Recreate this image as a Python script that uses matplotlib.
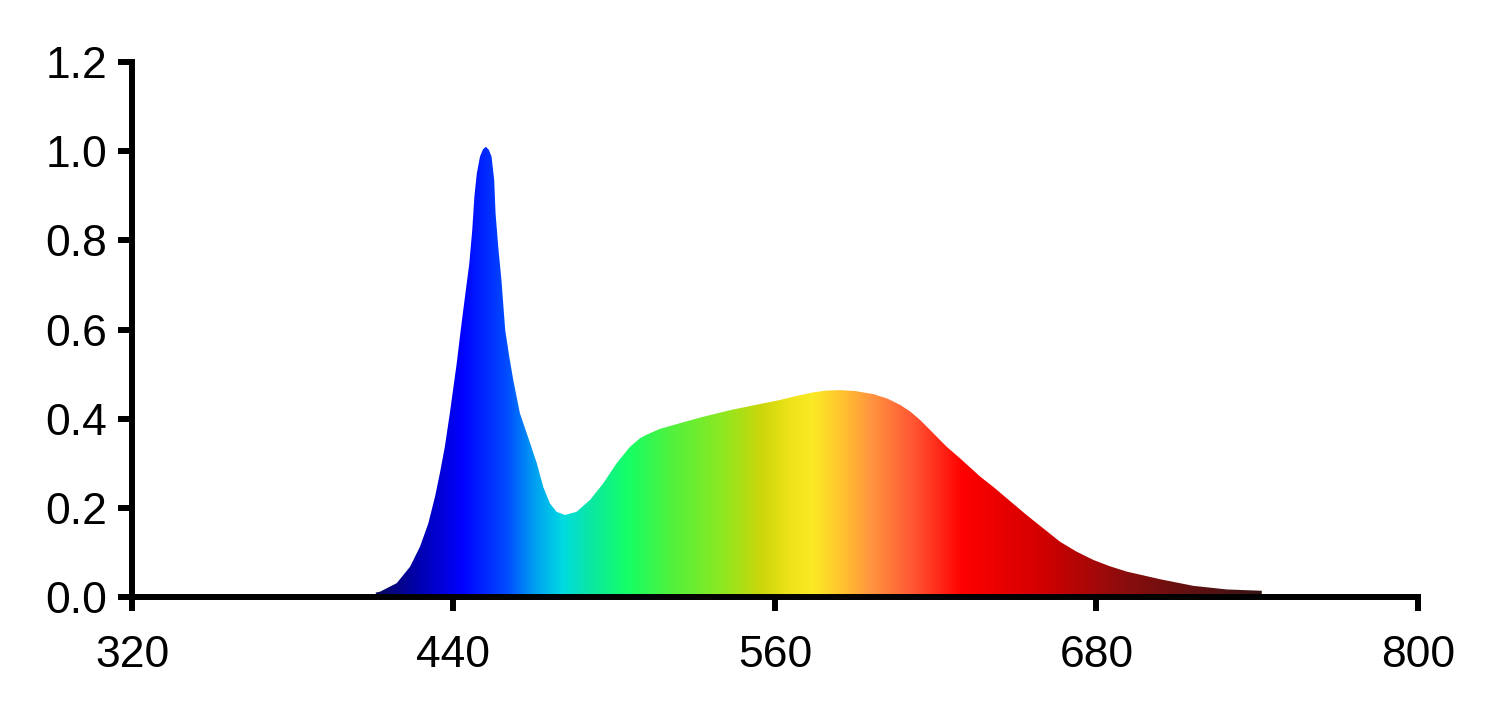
import numpy as np
import matplotlib
matplotlib.use("Agg")
import matplotlib.pyplot as plt
from matplotlib.colors import LinearSegmentedColormap

# Data
wavelength = [411.0, 412.6, 418.8, 423.8, 427.5, 430.6, 433.1, 435.0, 436.8, 438.7,
              441.2, 442.7, 444.3, 445.9, 447.0, 447.8, 448.7, 449.9, 451.0, 452.1,
              453.2, 454.2, 455.2, 455.7, 456.7, 457.9, 459.3, 460.8, 462.3, 464.8,
              468.6, 471.1, 473.5, 476.0, 478.5, 481.6, 485.9, 491.0, 495.9, 500.9,
              505.9, 509.6, 512.1, 517.0, 524.6, 533.0, 543.2, 552.0, 561.9, 568.0,
              574.3, 579.0, 584.4, 590.0, 596.8, 602.0, 606.7, 610.5, 614.2, 619.0,
              624.1, 629.1, 636.6, 641.5, 653.9, 666.4, 672.5, 678.9, 685.0, 691.3,
              703.7, 716.2, 728.6, 741.7]
intensity = [0.010, 0.012, 0.031, 0.068, 0.113, 0.165, 0.225, 0.280, 0.338, 0.415,
             0.524, 0.599, 0.674, 0.748, 0.823, 0.898, 0.950, 0.988, 1.004, 1.010,
             1.003, 0.988, 0.935, 0.861, 0.786, 0.711, 0.599, 0.540, 0.487, 0.412,
             0.345, 0.300, 0.247, 0.210, 0.191, 0.184, 0.191, 0.218, 0.255, 0.300,
             0.337, 0.356, 0.364, 0.377, 0.390, 0.404, 0.419, 0.430, 0.442, 0.451,
             0.459, 0.463, 0.464, 0.462, 0.455, 0.445, 0.431, 0.416, 0.397, 0.368,
             0.337, 0.311, 0.270, 0.247, 0.184, 0.124, 0.102, 0.083, 0.069, 0.057,
             0.040, 0.025, 0.017, 0.014]

x_ticks = [320, 440, 560, 680, 800]
y_ticks = [0.0, 0.2, 0.4, 0.6, 0.8, 1.0, 1.2]

# Colour stops for the gradient fill (style)
stops = [(410, (0.04, 0.04, 0.35)), (425, (0.0, 0.0, 0.65)), (443, (0.0, 0.0, 1.0)),
         (460, (0.0, 0.3, 1.0)), (470, (0.0, 0.62, 0.95)), (481, (0.0, 0.86, 0.88)),
         (490, (0.04, 0.90, 0.66)), (505, (0.08, 1.0, 0.40)), (520, (0.30, 0.95, 0.25)),
         (540, (0.55, 0.91, 0.13)), (555, (0.80, 0.84, 0.04)), (565, (0.93, 0.89, 0.10)),
         (574, (0.98, 0.92, 0.14)), (584, (1.0, 0.78, 0.18)), (596, (1.0, 0.58, 0.25)),
         (612, (1.0, 0.33, 0.20)), (630, (1.0, 0.0, 0.0)), (660, (0.82, 0.0, 0.0)),
         (690, (0.55, 0.05, 0.05)), (742, (0.20, 0.08, 0.08))]
lo, hi = stops[0][0], stops[-1][0]
cmap = LinearSegmentedColormap.from_list(
    "spec", [((w - lo) / (hi - lo), c) for w, c in stops], N=1024)

plt.rcParams['font.family'] = ['Liberation Sans', 'DejaVu Sans']

fig = plt.figure(figsize=(15, 7.12), dpi=100)
ax = fig.add_axes([0.088, 0.1615, 0.8573, 0.7514])

poly = ax.fill_between(wavelength, 0, intensity, facecolor='none', edgecolor='none')
grad = np.linspace(0, 1, 1024).reshape(1, -1)
im = ax.imshow(grad, cmap=cmap, aspect='auto', extent=[lo, hi, 0, 1.2],
               interpolation='bilinear', zorder=1)
path = poly.get_paths()[0]
im.set_clip_path(path, transform=ax.transData)

ax.set_xlim(320, 800)
ax.set_ylim(0, 1.2)
ax.set_xticks(x_ticks)
ax.set_yticks(y_ticks)
ax.set_yticklabels([f"{v:.1f}" for v in y_ticks])

for s in ['top', 'right']:
    ax.spines[s].set_visible(False)
for s in ['left', 'bottom']:
    ax.spines[s].set_linewidth(4.3)
    ax.spines[s].set_zorder(5)
    ax.spines[s].set_capstyle('projecting')
ax.tick_params(direction='out', length=10, width=4.3, labelsize=32, pad=8)
ax.tick_params(axis='x', pad=17)

fig.savefig("out.png", dpi=100, facecolor='white')
